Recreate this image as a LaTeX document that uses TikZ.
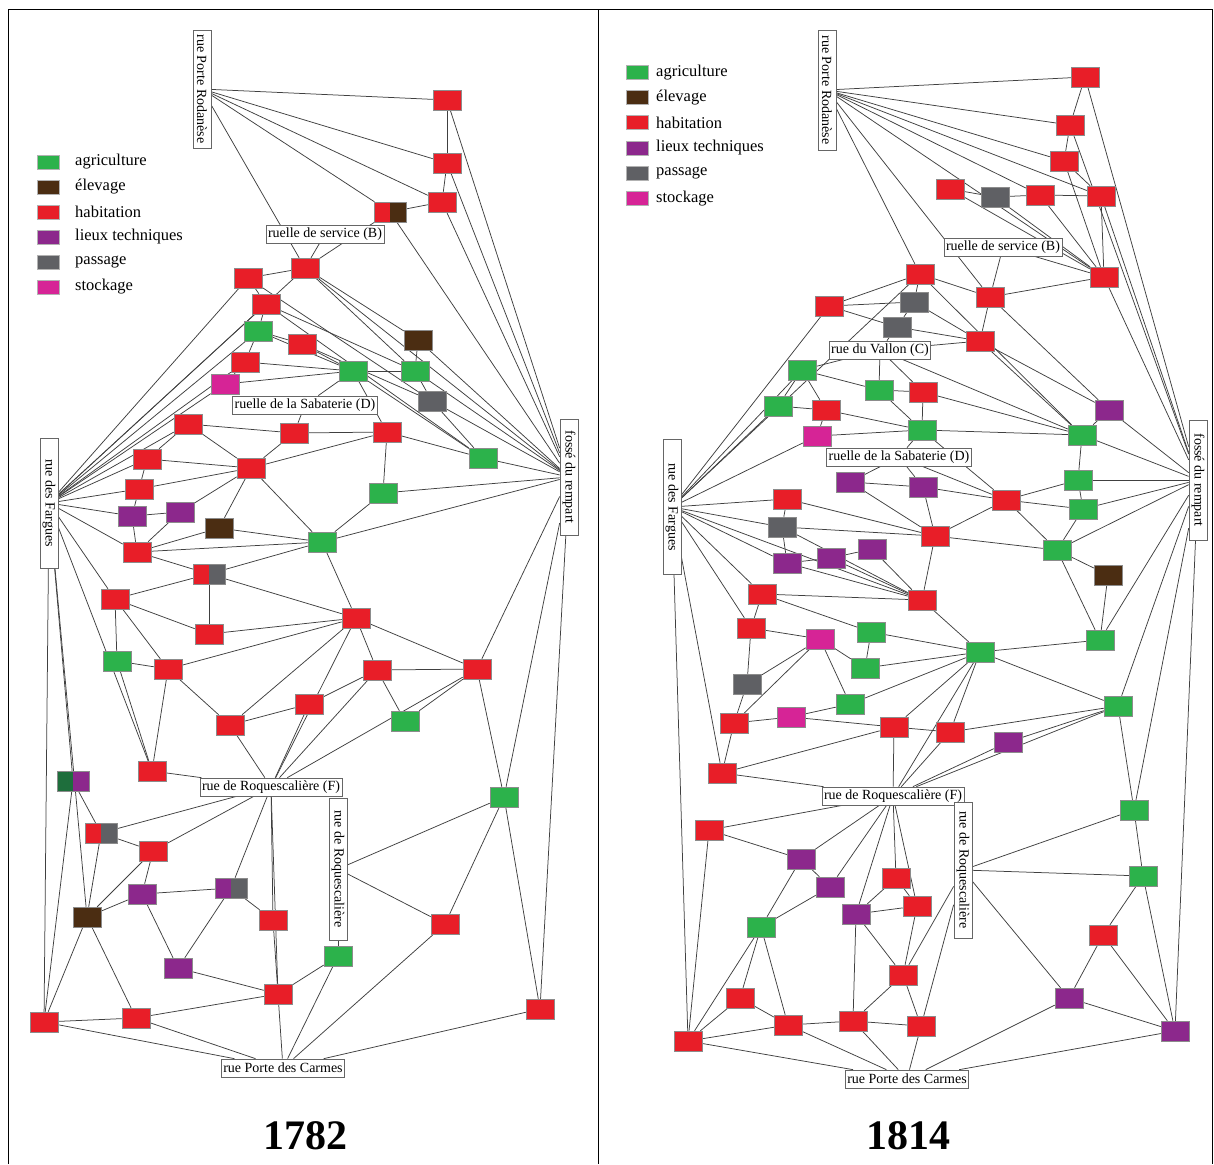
\documentclass[tikz,border=0pt]{standalone}
\usepackage{fontspec}
\setmainfont{Liberation Serif}
\usetikzlibrary{backgrounds}
\definecolor{cAgr}{RGB}{44,178,75}
\definecolor{cEle}{RGB}{75,45,18}
\definecolor{cHab}{RGB}{232,30,40}
\definecolor{cTec}{RGB}{140,40,140}
\definecolor{cPas}{RGB}{95,96,100}
\definecolor{cSto}{RGB}{214,36,150}
\definecolor{cDkg}{RGB}{30,110,60}
\tikzset{
  bx/.style={draw=black!45, line width=0.5pt, minimum width=28pt, minimum height=20pt, inner sep=0pt},
  agr/.style={bx, fill=cAgr}, ele/.style={bx, fill=cEle}, hab/.style={bx, fill=cHab},
  tec/.style={bx, fill=cTec}, pas/.style={bx, fill=cPas}, sto/.style={bx, fill=cSto},
  split/.style 2 args={bx, minimum width=32pt, fill=#1, path picture={\fill[#2] (path picture bounding box.north) rectangle (path picture bounding box.south east);}},
  lbl/.style={draw=black!60, fill=white, line width=0.7pt, font=\fontsize{14}{15}\selectfont, inner xsep=2pt, inner ysep=1pt, minimum height=18pt},
  vlbl/.style={lbl, rotate=-90},
  ed/.style={draw=black!75, line width=0.75pt},
  lgsq/.style={draw=black!30, line width=0.4pt, minimum width=22pt, minimum height=14pt, inner sep=0pt},
  lgtx/.style={anchor=west, inner sep=0pt, font=\fontsize{16.5}{18}\selectfont},
  year/.style={font=\fontsize{42}{46}\selectfont\bfseries}
}
\begin{document}
\begin{tikzpicture}[x=1pt,y=-1pt]
\useasboundingbox (0,0) rectangle (1214,1164);
\begin{scope}[on background layer]
\fill[white] (0,0) rectangle (1214,1164);
\end{scope}
\draw[line width=1pt] (8,1164) -- (8,10) -- (1212,10) -- (1212,1164);
\draw[line width=1pt] (598,10) -- (598,1164);

% ---------------- legends ----------------
\foreach \i/\c/\t [count=\k] in {agr/cAgr/agriculture, ele/cEle/élevage, hab/cHab/habitation, tec/cTec/lieux techniques, pas/cPas/passage, sto/cSto/stockage}{
  \node[lgsq, fill=\c] (la\i) at (48,{137+25*\k}) {};
  \node[lgtx] (lat\i) at (75,{137+25*\k}) {\t};
  \node[lgsq, fill=\c] (lb\i) at (637,{47+25.2*\k}) {};
  \node[lgtx] (lbt\i) at (656,{47+25.2*\k}) {\t};
}

% ---------------- left panel (1782) ----------------
\node[vlbl, minimum width=118pt] (aPR) at (202,89) {rue Porte Rodanèse};
\node[lbl] (aRSB) at (325,234) {ruelle de service (B)};
\node[lbl] (aRSD) at (305,405) {ruelle de la Sabaterie (D)};
\node[vlbl, minimum width=130pt] (aRF) at (49,503) {rue des Fargues};
\node[vlbl, minimum width=116pt] (aFR) at (569,477) {fossé du rempart};
\node[lbl] (aRRF) at (271,787) {rue de Roquescalière (F)};
\node[vlbl, minimum width=142pt] (aRRV) at (338,869) {rue de Roquescalière};
\node[lbl] (aRPC) at (283,1068) {rue Porte des Carmes};

\node[hab] (a1) at (447,100) {};
\node[hab] (a2) at (447,163) {};
\node[hab] (a3) at (442,202) {};
\node[split={cHab}{cEle}] (a4) at (390,212) {};
\node[hab] (a5) at (305,268) {};
\node[hab] (a6) at (248,278) {};
\node[hab] (a7) at (266,304) {};
\node[agr] (a8) at (258,331) {};
\node[hab] (a9) at (302,344) {};
\node[ele] (a10) at (418,340) {};
\node[hab] (a11) at (245,362) {};
\node[agr] (a12) at (353,371) {};
\node[agr] (a13) at (415,371) {};
\node[sto] (a14) at (225,384) {};
\node[pas] (a15) at (432,401) {};
\node[hab] (a16) at (188,424) {};
\node[hab] (a17) at (294,433) {};
\node[hab] (a18) at (387,432) {};
\node[agr] (a19) at (483,458) {};
\node[hab] (a20) at (147,459) {};
\node[hab] (a21) at (251,468) {};
\node[hab] (a22) at (139,489) {};
\node[agr] (a23) at (383,493) {};
\node[tec] (a24) at (132,516) {};
\node[tec] (a25) at (180,512) {};
\node[ele] (a26) at (219,528) {};
\node[hab] (a27) at (137,552) {};
\node[agr] (a28) at (322,542) {};
\node[split={cHab}{cPas}] (a29) at (209,574) {};
\node[hab] (a30) at (115,599) {};
\node[hab] (a31) at (356,618) {};
\node[hab] (a32) at (209,634) {};
\node[agr] (a33) at (117,661) {};
\node[hab] (a34) at (168,669) {};
\node[hab] (a35) at (377,670) {};
\node[hab] (a36) at (477,669) {};
\node[hab] (a37) at (309,704) {};
\node[hab] (a38) at (230,725) {};
\node[agr] (a39) at (405,721) {};
\node[hab] (a40) at (152,771) {};
\node[split={cDkg}{cTec}] (a41) at (73,781) {};
\node[agr] (a42) at (504,797) {};
\node[split={cHab}{cPas}] (a43) at (101,833) {};
\node[hab] (a44) at (153,851) {};
\node[tec] (a45) at (142,894) {};
\node[split={cTec}{cPas}] (a46) at (231,888) {};
\node[ele] (a47) at (87,917) {};
\node[hab] (a48) at (273,920) {};
\node[hab] (a49) at (445,924) {};
\node[agr] (a50) at (338,956) {};
\node[tec] (a51) at (178,968) {};
\node[hab] (a52) at (278,994) {};
\node[hab] (a53) at (44,1022) {};
\node[hab] (a54) at (136,1018) {};
\node[hab] (a55) at (540,1009) {};

\node[year] (ya) at (305,1136) {1782};

% ---------------- right panel (1814) ----------------
\node[vlbl, minimum width=120pt] (bPR) at (827,90) {rue Porte Rodanèse};
\node[lbl] (bRSB) at (1003,247) {ruelle de service (B)};
\node[lbl] (bRVC) at (880,350) {rue du Vallon (C)};
\node[lbl] (bRSD) at (899,457) {ruelle de la Sabaterie (D)};
\node[vlbl, minimum width=135pt] (bRF) at (672,507) {rue des Fargues};
\node[vlbl, minimum width=120pt] (bFR) at (1198,480) {fossé du rempart};
\node[lbl] (bRRF) at (893,796) {rue de Roquescalière (F)};
\node[vlbl, minimum width=136pt] (bRRV) at (963,870) {rue de Roquescalière};
\node[lbl] (bRPC) at (907,1079) {rue Porte des Carmes};

\node[hab] (b1) at (1085,77) {};
\node[hab] (b2) at (1070,125) {};
\node[hab] (b3) at (1064,161) {};
\node[hab] (b4) at (950,189) {};
\node[pas] (b5) at (995,197) {};
\node[hab] (b6) at (1040,195) {};
\node[hab] (b7) at (1101,196) {};
\node[hab] (b8) at (1104,277) {};
\node[hab] (b9) at (920,274) {};
\node[hab] (b10) at (990,297) {};
\node[hab] (b11) at (829,306) {};
\node[pas] (b12) at (914,302) {};
\node[pas] (b13) at (897,327) {};
\node[hab] (b14) at (980,341) {};
\node[agr] (b15) at (802,370) {};
\node[agr] (b16) at (879,390) {};
\node[hab] (b17) at (923,392) {};
\node[agr] (b18) at (778,406) {};
\node[hab] (b19) at (826,410) {};
\node[tec] (b20) at (1109,410) {};
\node[agr] (b21) at (922,430) {};
\node[sto] (b22) at (817,436) {};
\node[agr] (b23) at (1082,435) {};
\node[tec] (b24) at (850,482) {};
\node[tec] (b25) at (923,487) {};
\node[agr] (b26) at (1078,480) {};
\node[hab] (b27) at (787,499) {};
\node[hab] (b28) at (1006,500) {};
\node[agr] (b29) at (1083,509) {};
\node[pas] (b30) at (782,527) {};
\node[hab] (b31) at (935,536) {};
\node[tec] (b32) at (787,563) {};
\node[tec] (b33) at (831,558) {};
\node[tec] (b34) at (872,549) {};
\node[agr] (b35) at (1057,550) {};
\node[ele] (b36) at (1108,575) {};
\node[hab] (b37) at (762,594) {};
\node[hab] (b38) at (922,600) {};
\node[hab] (b39) at (751,628) {};
\node[agr] (b40) at (871,632) {};
\node[sto] (b41) at (820,639) {};
\node[agr] (b42) at (1100,640) {};
\node[agr] (b43) at (865,668) {};
\node[agr] (b44) at (980,652) {};
\node[pas] (b45) at (747,684) {};
\node[hab] (b46) at (734,723) {};
\node[sto] (b47) at (791,717) {};
\node[agr] (b48) at (850,704) {};
\node[hab] (b49) at (894,727) {};
\node[hab] (b50) at (950,732) {};
\node[agr] (b51) at (1118,706) {};
\node[tec] (b52) at (1008,742) {};
\node[hab] (b53) at (722,773) {};
\node[agr] (b54) at (1134,810) {};
\node[hab] (b55) at (709,830) {};
\node[tec] (b56) at (801,859) {};
\node[tec] (b57) at (830,887) {};
\node[hab] (b58) at (896,878) {};
\node[tec] (b59) at (856,914) {};
\node[hab] (b60) at (917,906) {};
\node[agr] (b61) at (1143,876) {};
\node[agr] (b62) at (761,927) {};
\node[hab] (b63) at (1103,935) {};
\node[hab] (b64) at (903,975) {};
\node[hab] (b65) at (740,998) {};
\node[tec] (b66) at (1069,998) {};
\node[hab] (b67) at (788,1025) {};
\node[hab] (b68) at (853,1021) {};
\node[hab] (b69) at (921,1026) {};
\node[hab] (b70) at (688,1041) {};
\node[tec] (b71) at (1175,1031) {};

\node[year] (yb) at (908,1136) {1814};

% ---------------- connectors ----------------
\begin{scope}[on background layer]
\foreach \p/\q in {aPR/a1, aPR/a2, aPR/a3, aPR/a4, aPR/a5,
  a1/a2, a1/aFR, a2/a3, a2/aFR, a3/a4, a3/aFR, a4/a5, a4/aFR,
  aRSB/a5, a5/a6, a5/a10, a5/a13, a5/aFR, aRF/a5,
  a6/aRF, a6/a7, a6/a15, a7/a8, a7/a13, a7/aRF, a7/a19,
  a8/a9, a8/a11, a8/aRF, a8/a12, a9/a12, a9/a15, a10/a13, a10/aFR,
  a11/a12, a11/aRF, a11/a14, a12/a13, a12/a14, a12/a19, a12/aRSD, a12/a18,
  a13/a15, a13/aFR, a14/aRF, a15/a19, a15/aFR,
  aRSD/a17, a16/a17, a16/a20, a16/a21, a16/aRF, a17/a21, a17/a18,
  a18/a21, a18/a23, a18/a19, a19/aFR,
  a20/a21, a20/a22, a20/aRF, a21/a22, a21/a25, a21/a26, a21/a28,
  a22/a24, a22/aRF, a23/a28, a23/aFR,
  a24/a25, a24/a27, a24/aRF, a25/a27, a26/a28, a26/a27,
  a27/a28, a27/a29, a27/aRF, a28/a29, a28/a31, a28/aFR,
  a29/a30, a29/a32, a29/a31, a30/a32, a30/a33, a30/a34, a30/aRF,
  a31/a32, a31/a34, a31/a35, a31/a36, a31/a38, a31/aRRF,
  a33/a34, a33/a40, a34/a38, a34/a40,
  a35/a36, a35/a37, a35/a39, a35/aRRF, a36/a39, a36/aRRF, a36/aFR, a36/a42,
  a37/a38, a37/aRRF, a38/aRRF, a40/aRRF, a40/aRF,
  a41/a43, a41/aRF, a41/a53, a42/aFR, a42/a49, a42/aRRV, a42/a55,
  a43/aRRF, a43/a44, a43/a47, a44/aRRF, a44/a45, a44/a47,
  a45/a46, a45/a47, a45/a51, a46/a48, a46/a51, a46/aRRF,
  a47/a53, a47/a54, a47/aRF, a48/a52, a48/aRRF,
  a49/aRRV, a49/aRPC, a50/aRRV, a50/a52, a50/aRPC, a51/a52,
  a52/aRPC, a52/a54, a52/aRRF, a53/a54, a53/aRPC, a53/aRF, a54/aRPC,
  a55/aRPC, a55/aFR}
  \draw[ed] (\p) -- (\q);
\foreach \p/\q in {bPR/b1, bPR/b2, bPR/b3, bPR/b7, bPR/b6, bPR/b8, bPR/b10, bPR/b9,
  b1/b2, b1/bFR, b2/b3, b2/bFR, b3/b7, b3/b8,
  b4/b5, b4/b8, b5/b6, b5/b8, b6/b7, b6/b8, b7/b8, b7/bFR,
  bRSB/b10, bRSB/b8, b8/b10, b8/bFR,
  b9/b11, b9/b12, b9/b10, b9/bRF, b9/b23, b10/b20, b10/b14,
  b11/b12, b11/b13, b11/bRF, b12/b14, b12/b13, b13/bRVC, b13/b14,
  bRVC/b14, bRVC/b15, bRVC/b16, bRVC/b17, bRVC/b23,
  b14/b20, b14/b23, b15/b18, b15/b19, b15/b16, b15/bRF,
  b16/b17, b16/b21, b17/b21, b17/b23, b18/b19, b18/bRF,
  b19/b22, b19/b21, b20/bFR, b20/b23,
  b21/b22, b21/b23, b21/bRSD, b21/b28, b22/bRF,
  bRSD/b24, bRSD/b25, bRSD/b28,
  b23/b26, b23/bFR, b24/b25, b24/b31, b25/b28, b25/b31,
  b26/b29, b26/bFR, b26/b28, b27/b30, b27/b31, b27/bRF,
  b28/b29, b28/b31, b28/b35, b29/b35, b29/bFR,
  b30/b32, b30/b31, b30/bRF, b30/b38, b31/b38, b31/b35,
  b32/b33, b32/bRF, b32/b38, b33/b34, b33/b38, b34/b38,
  b35/b36, b35/b42, b35/bFR, b36/b42,
  b37/b38, b37/b39, b37/b40, b37/bRF, b38/b44, b38/bRF,
  b39/b41, b39/b45, b39/bRF, b40/b43, b40/b44,
  b41/b45, b41/b48, b41/b43, b41/b46, b42/b44, b42/bFR, b43/b44,
  b44/b48, b44/b49, b44/b50, b44/b51, b44/bRRF,
  b45/b46, b46/b47, b46/b53, b47/b48, b47/b49,
  b49/b50, b49/bRRF, b49/b53, b50/bRRF, b50/b51,
  b51/b52, b51/bRRF, b51/b54, b51/bFR, b52/bRRF,
  b53/bRRF, b53/bRF, b55/bRRF, b55/b56, b55/b70,
  b56/b57, b56/b62, b56/bRRF, b57/b62, b57/bRRF,
  b58/b60, b58/b59, b58/bRRF, b59/b60, b59/b64, b59/b68, b59/bRRF,
  b60/b64, b60/bRRF, b54/bRRV, b54/b61, b54/bFR,
  b61/bRRV, b61/b63, b61/b71, b62/b65, b62/b67, b62/b70,
  b63/b66, b63/b71, b64/b68, b64/b69, b64/bRRV, b65/b67, b65/b70,
  b66/b71, b66/bRRV, b66/bRPC, b67/b68, b67/bRPC, b68/b69, b68/bRPC,
  b69/bRPC, b69/bRRV, b70/b67, b70/bRPC, b70/bRF, b71/bRPC, b71/bFR}
  \draw[ed] (\p) -- (\q);
\end{scope}
\end{tikzpicture}
\end{document}
